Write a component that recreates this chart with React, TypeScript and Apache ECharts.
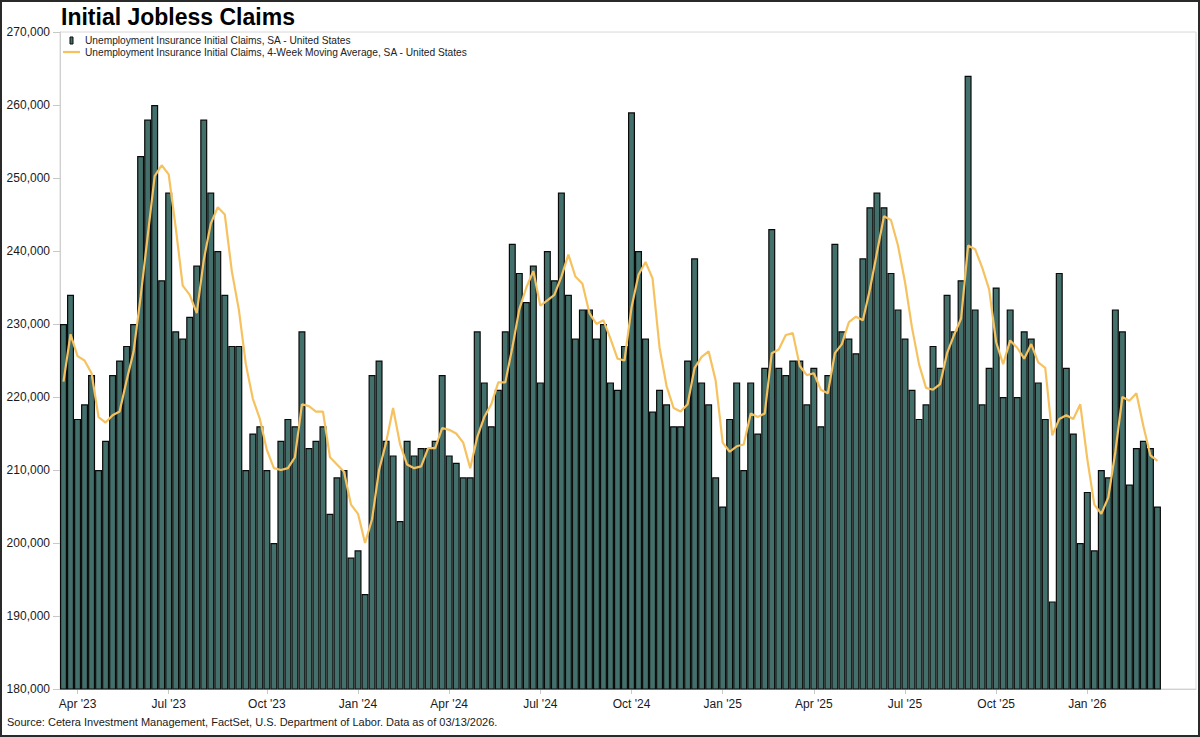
import React, { useEffect, useRef } from "react";
import * as echarts from "echarts";

// ---- Weekly categories (week-ending dates), axis runs a few weeks past the last print ----
const FIRST_WEEK_UTC = Date.UTC(2023, 2, 18);
const AXIS_WEEKS = 162;
const MONTH_NAMES = ["Jan", "Feb", "Mar", "Apr", "May", "Jun", "Jul", "Aug", "Sep", "Oct", "Nov", "Dec"];
const QUARTER_MONTHS = [0, 3, 6, 9];

// ---- Initial claims, SA (thousands) ----
const claims2023 = [
  230, 234, 217, 219, 223, 210, 214, 223, 225, 227, 230, 253, 258, 260, 236, 248, 229, 228, 231, 238,
  258, 248, 240, 234, 227, 227, 210, 215, 216, 210, 200, 214, 217, 216, 229, 213, 214, 216, 204, 209,
  210, 198,
];
const claims2024 = [
  199, 193, 223, 225, 214, 212, 203, 214, 212, 213, 213, 214, 223, 212, 211, 209, 209, 229, 222, 216,
  221, 229, 241, 237, 233, 238, 222, 240, 236, 248, 234, 228, 232, 232, 228, 230, 222, 221, 227, 259,
  240, 228, 218, 221, 219, 216, 216, 225, 239, 222, 219, 209,
];
const claims2025 = [
  205, 217, 222, 210, 222, 215, 224, 243, 224, 223, 225, 225, 219, 224, 216, 223, 241, 229, 228, 226,
  239, 246, 248, 246, 237, 232, 228, 221, 217, 219, 227, 224, 234, 229, 236, 264, 232, 219, 224, 235,
  220, 232, 220, 229, 228, 222, 217, 192, 237, 224, 215, 200,
];
const claims2026 = [207, 199, 210, 209, 232, 229, 208, 213, 214, 213, 205];

// ---- 4-week moving average, SA (thousands) ----
const avg2023 = [
  222.1, 228.6, 225.6, 225, 223.25, 217.25, 216.5, 217.5, 218, 222.25, 226.25, 233.75, 242, 250.25,
  251.75, 250.5, 243.25, 235.25, 234, 231.5, 238.75, 243.75, 246, 245, 237.25, 232, 224.5, 219.75,
  217, 212.75, 210.25, 210, 210.25, 211.75, 219, 218.75, 218, 218, 211.75, 210.75, 209.75, 205.25,
];
const avg2024 = [
  204, 200, 203.25, 210, 213.75, 218.5, 213.5, 210.75, 210.25, 210.5, 213, 213, 215.75, 215.5, 215,
  213.75, 210.25, 214.5, 217.25, 219, 222, 222, 226.75, 232, 235, 237.25, 232.5, 233.25, 234, 236.5,
  239.5, 236.5, 235.5, 231.5, 230, 230.5, 228, 225.25, 225, 232.25, 236.75, 238.5, 236.25, 226.75,
  221.5, 218.5, 218, 219, 224, 225.5, 226.25, 222.25,
];
const avg2025 = [
  213.75, 212.5, 213.25, 213.5, 217.75, 217.25, 217.75, 226, 226.5, 228.5, 228.75, 224.25, 223,
  223.25, 221, 220.5, 226, 227.25, 230.25, 231, 230.5, 234.75, 239.75, 244.75, 244.25, 240.75,
  235.75, 229.5, 224.5, 221.25, 221, 221.75, 226, 228.5, 230.75, 240.75, 240.25, 237.75, 234.75,
  227.5, 224.5, 227.75, 226.75, 225.25, 227.25, 224.75, 224, 214.75, 217, 217.5, 217, 219,
];
const avg2026 = [211.5, 205.25, 204, 206.25, 212.5, 220, 219.5, 220.5, 216, 212, 211.25];

// ---- Y axis ticks (thousands) ----
const Y_MIN = 180;
const Y_MAX = 270;
const Y_STEP = 10;

const TITLE = "Initial Jobless Claims";
const BAR_NAME = "Unemployment Insurance Initial Claims, SA - United States";
const LINE_NAME = "Unemployment Insurance Initial Claims, 4-Week Moving Average, SA - United States";
const SOURCE =
  "Source: Cetera Investment Management, FactSet, U.S. Department of Labor. Data as of 03/13/2026.";

const FONT = "'Liberation Sans', Arial, Helvetica, sans-serif";
const BAR_FILL = "#44706c";
const BAR_EDGE = "#0a0a0a";
const LINE_COLOR = "#f6c260";

const claims = [...claims2023, ...claims2024, ...claims2025, ...claims2026];
const movingAvg = [...avg2023, ...avg2024, ...avg2025, ...avg2026];

const weekDates: Date[] = [];
for (let i = 0; i < AXIS_WEEKS; i++) {
  weekDates.push(new Date(FIRST_WEEK_UTC + i * 7 * 86400000));
}
const categories = weekDates.map((d) => d.toISOString().slice(0, 10));

const isQuarterStart = (index: number) => {
  if (index >= claims.length) return false;
  const d = weekDates[index];
  return QUARTER_MONTHS.includes(d.getUTCMonth()) && d.getUTCDate() <= 7;
};

export default function App() {
  const ref = useRef<HTMLDivElement | null>(null);

  useEffect(() => {
    document.body.style.margin = "0";
    if (!ref.current) return;
    const chart = echarts.init(ref.current, undefined, { renderer: "svg" });

    const option: any = {
      animation: false,
      backgroundColor: "#ffffff",
      title: [
        {
          text: TITLE,
          left: 61,
          top: 5,
          padding: 0,
          textStyle: { fontFamily: FONT, fontSize: 23, fontWeight: "bold", color: "#000", lineHeight: 24 },
        },
        {
          text: SOURCE,
          left: 7,
          top: 716,
          padding: 0,
          textStyle: { fontFamily: FONT, fontSize: 11, fontWeight: "normal", color: "#1a1a1a", lineHeight: 12 },
        },
      ],
      legend: {
        orient: "vertical",
        left: 63,
        top: 35,
        padding: 0,
        itemGap: 0.5,
        itemWidth: 17,
        itemHeight: 7,
        selectedMode: false,
        textStyle: { fontFamily: FONT, fontSize: 10.2, lineHeight: 11, color: "#222" },
        data: [
          {
            name: BAR_NAME,
            icon: "path://M0,0H3V7H0Z",
            itemStyle: { color: BAR_FILL, borderColor: BAR_EDGE, borderWidth: 1 },
          },
          {
            name: LINE_NAME,
            icon: "path://M0,0H17V2.2H0Z",
            itemStyle: { color: LINE_COLOR, borderWidth: 0 },
          },
        ],
      },
      grid: {
        left: 60,
        top: 32,
        width: 1136,
        height: 657,
        show: true,
        borderColor: "#d8d8d8",
        borderWidth: 1,
        backgroundColor: "transparent",
        containLabel: false,
        outerBoundsMode: "none",
      },
      xAxis: {
        type: "category",
        data: categories,
        boundaryGap: true,
        axisLine: { show: true, lineStyle: { color: "#d0d0d0", width: 1 } },
        axisTick: {
          show: true,
          alignWithLabel: true,
          interval: (index: number) => isQuarterStart(index),
          length: 5,
          lineStyle: { color: "#c8c8c8" },
        },
        axisLabel: {
          interval: (index: number) => isQuarterStart(index),
          formatter: (value: string) => {
            const d = new Date(value + "T00:00:00Z");
            return `${MONTH_NAMES[d.getUTCMonth()]} '${String(d.getUTCFullYear()).slice(2)}`;
          },
          fontFamily: FONT,
          fontSize: 12,
          color: "#1a1a1a",
          margin: 9,
        },
        splitLine: { show: false },
      },
      yAxis: {
        type: "value",
        min: Y_MIN,
        max: Y_MAX,
        interval: Y_STEP,
        axisLine: { show: true, lineStyle: { color: "#d0d0d0", width: 1 } },
        axisTick: { show: true, length: 7, lineStyle: { color: "#c8c8c8" } },
        axisLabel: {
          formatter: (v: number) => Math.round(v * 1000).toLocaleString("en-US"),
          fontFamily: FONT,
          fontSize: 12,
          color: "#1a1a1a",
          margin: 10,
        },
        splitLine: { show: false },
      },
      series: [
        {
          name: BAR_NAME,
          type: "bar",
          data: claims,
          barCategoryGap: "0%",
          itemStyle: { color: BAR_FILL, borderColor: BAR_EDGE, borderWidth: 1.2 },
          z: 2,
        },
        {
          name: LINE_NAME,
          type: "line",
          data: movingAvg,
          symbol: "none",
          showSymbol: false,
          lineStyle: { color: LINE_COLOR, width: 2.2 },
          itemStyle: { color: LINE_COLOR },
          z: 3,
        },
      ],
      graphic: [
        {
          type: "rect",
          silent: true,
          z: 100,
          shape: { x: 1, y: 1, width: 1198, height: 735 },
          style: { fill: "none", stroke: "#2a2a2a", lineWidth: 2 },
        },
      ],
    };

    chart.setOption(option);
    return () => {
      chart.dispose();
    };
  }, []);

  return <div ref={ref} style={{ width: 1200, height: 737 }} />;
}
